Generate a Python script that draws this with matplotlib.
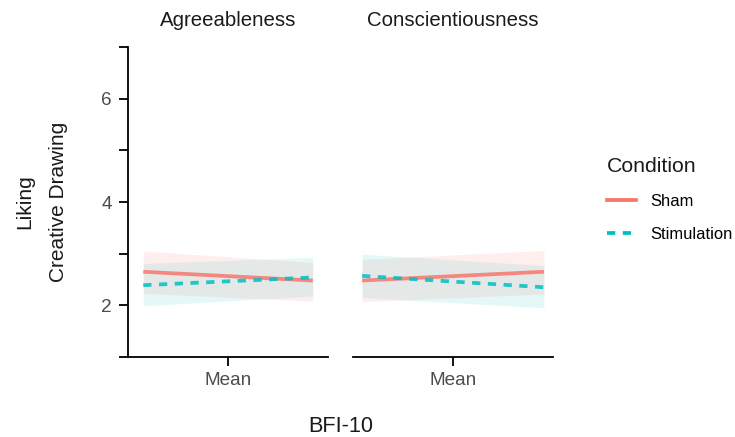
import matplotlib
matplotlib.use("Agg")
from matplotlib import pyplot as plt
from matplotlib.lines import Line2D
import numpy as np

plt.rcParams['font.family'] = ['Liberation Sans', 'DejaVu Sans']

# predicted liking at -1 SD and +1 SD of each trait
traits = ['Agreeableness', 'Conscientiousness']
x_sd = [-1, 1]
sham_fit = {'Agreeableness': [2.65, 2.48], 'Conscientiousness': [2.48, 2.65]}
sham_lo = {'Agreeableness': [2.23, 2.08], 'Conscientiousness': [2.07, 2.22]}
sham_hi = {'Agreeableness': [3.05, 2.83], 'Conscientiousness': [2.89, 3.06]}
stim_fit = {'Agreeableness': [2.39, 2.54], 'Conscientiousness': [2.57, 2.35]}
stim_lo = {'Agreeableness': [1.99, 2.18], 'Conscientiousness': [2.15, 1.95]}
stim_hi = {'Agreeableness': [2.81, 2.93], 'Conscientiousness': [2.99, 2.77]}
# half-width of the x range relative to the data range, per facet
x_pad = {'Agreeableness': 1.18, 'Conscientiousness': 1.10}

sham_col = '#F8766D'
stim_col = '#00BFC4'
grey = '#4D4D4D'
ink = '#1A1A1A'

W, H = 735, 437
fig = plt.figure(figsize=(W / 100, H / 100), dpi=100)
panels = [(128, 328), (353, 553)]
top, bottom = 47, 357

axes = []
for (x0, x1), trait in zip(panels, traits):
    ax = fig.add_axes([x0 / W, 1 - bottom / H, (x1 - x0) / W, (bottom - top) / H])
    ax.fill_between(x_sd, sham_lo[trait], sham_hi[trait], color=sham_col, alpha=0.12, lw=0)
    ax.fill_between(x_sd, stim_lo[trait], stim_hi[trait], color=stim_col, alpha=0.1, lw=0)
    ax.plot(x_sd, sham_fit[trait], color=sham_col, lw=2.7, alpha=0.85, solid_capstyle='butt')
    ax.plot(x_sd, stim_fit[trait], color=stim_col, lw=2.7, alpha=0.85,
            linestyle=(0, (2.2, 2.0)), dash_capstyle='butt')
    p = x_pad[trait]
    ax.set_xlim(-p, p)
    ax.set_ylim(1, 7)
    ax.set_xticks([0])
    ax.set_xticklabels(['Mean'], color=grey, fontsize=13.7)
    ax.set_title(trait, fontsize=14.7, pad=15, color=ink)
    for s in ['top', 'right']:
        ax.spines[s].set_visible(False)
    ax.spines['bottom'].set_linewidth(1.3)
    ax.tick_params(axis='x', length=6.5, width=1.3, pad=4)
    axes.append(ax)

ax = axes[0]
ax.spines['left'].set_linewidth(1.3)
ax.set_yticks([1, 2, 3, 4, 5, 6, 7])
ax.set_yticklabels(['', '2', '', '4', '', '6', ''], color=grey, fontsize=13.7)
ax.tick_params(axis='y', length=6.5, width=1.3, pad=5)
ax.set_ylabel('Liking\nCreative Drawing', fontsize=15, labelpad=24, linespacing=2.0,
              color=ink)

ax2 = axes[1]
ax2.spines['left'].set_visible(False)
ax2.set_yticks([])

fig.text(341 / W, 1 - 426 / H, 'BFI-10', ha='center', va='center', fontsize=15.7,
         color=ink)

handles = [Line2D([], [], color=sham_col, lw=2.7),
           Line2D([], [], color=stim_col, lw=2.7, linestyle=(0, (2.2, 2.0)))]
leg = fig.legend(handles, ['Sham', 'Stimulation'], title='Condition',
                 loc='upper left', bbox_to_anchor=(592 / W, 1 - 142 / H),
                 frameon=False, fontsize=11.9, title_fontsize=15.3,
                 handlelength=1.75, handletextpad=0.85, labelspacing=1.1,
                 borderpad=0.4, alignment='left')
leg.get_title().set_color(ink)

fig.savefig('out.png', dpi=100)
